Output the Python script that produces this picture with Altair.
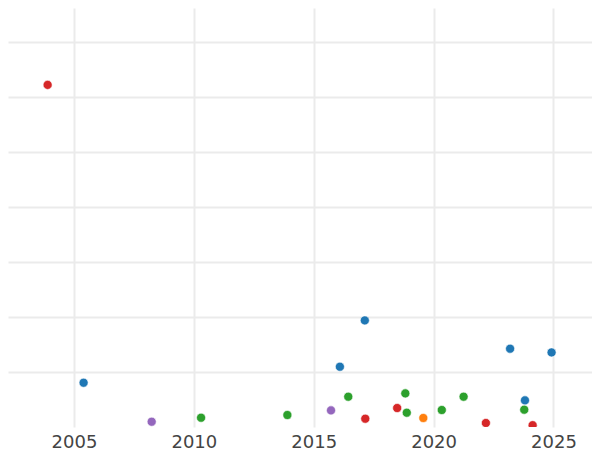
import altair as alt
import pandas as pd

years = [2003.90, 2005.40, 2008.24, 2010.30, 2013.90, 2015.72, 2016.09, 2016.44,
         2017.15, 2017.13, 2018.48, 2018.82, 2018.88, 2019.57, 2020.34, 2021.25,
         2022.18, 2023.19, 2023.81, 2023.78, 2024.13, 2024.92]
values = [62.2, 8.05, 0.96, 1.69, 2.18, 3.02, 10.96, 5.51,
          1.51, 19.38, 3.45, 6.11, 2.6, 1.64, 3.09, 5.51,
          0.73, 14.24, 4.84, 3.15, 0.33, 13.56]
groups = ["red", "blue", "purple", "green", "green", "purple", "blue", "green",
          "red", "blue", "red", "green", "green", "orange", "green", "green",
          "red", "blue", "blue", "green", "red", "blue"]

group_names = ["blue", "orange", "green", "red", "purple"]
group_colors = ["#1f77b4", "#ff7f0e", "#2ca02c", "#d62728", "#9467bd"]
x_ticks = [2005, 2010, 2015, 2020, 2025]
y_grid = [10, 20, 30, 40, 50, 60, 70]

df = pd.DataFrame({"year": years, "value": values, "group": groups})

chart = alt.Chart(df).mark_circle(
    size=82, opacity=1, stroke="white", strokeWidth=0.6, clip=True
).encode(
    x=alt.X("year:Q",
            scale=alt.Scale(domain=[2002.247, 2026.606], nice=False, zero=False),
            axis=alt.Axis(values=x_ticks, format="d", title=None, grid=True,
                          domain=False, ticks=False, tickSize=0, labelPadding=6,
                          labelFontSize=18, labelFont="DejaVu Sans",
                          labelColor="#444444", gridColor="#ebebeb", gridWidth=2)),
    y=alt.Y("value:Q",
            scale=alt.Scale(domain=[0, 76.18], nice=False, zero=False),
            axis=alt.Axis(values=y_grid, title=None, labels=False, grid=True,
                          domain=False, ticks=False, gridColor="#ebebeb", gridWidth=2)),
    color=alt.Color("group:N", scale=alt.Scale(domain=group_names, range=group_colors),
                    legend=None),
).properties(
    width=584, height=419,
    autosize=alt.AutoSizeParams(type="none"),
    padding={"left": 0, "top": 0, "right": 0, "bottom": 23},
    background="white",
).configure_view(stroke=None)

chart.save("out.html", embed_options={"renderer": "svg", "actions": False})
